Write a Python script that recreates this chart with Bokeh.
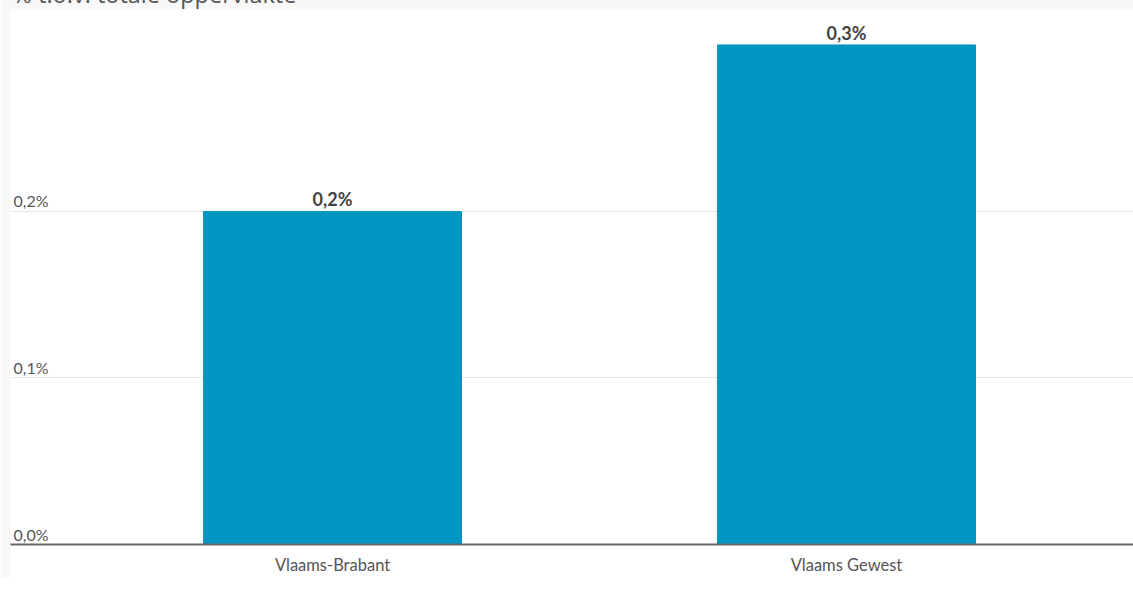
from bokeh.plotting import figure
from bokeh.models import Range1d, FixedTicker, ColumnDataSource
from bokeh.core.properties import value
from bokeh.embed import file_html
from bokeh.resources import INLINE

# ---- data ----
categories = ["Vlaams-Brabant", "Vlaams Gewest"]
values = [0.2, 0.3]
value_labels = ["0,2%", "0,3%"]
y_ticks = [0.0, 0.1, 0.2]
y_tick_labels = ["0,0%", "0,1%", "0,2%"]
title_text = "% t.o.v. totale oppervlakte"

FONT = "Lato"
BAR_COLOR = "#0096c1"

x_pos = list(range(len(categories)))
x_start, x_end = -0.6265, 1.5584

p = figure(
    width=1133, height=602,
    x_range=Range1d(x_start, x_end), y_range=Range1d(0, 0.3213),
    output_backend="svg", toolbar_location=None,
    y_axis_location=None,
    title=title_text,
    margin=(-25, 0, 0, 0),
    min_border_left=10, min_border_right=0, min_border_top=0, min_border_bottom=0,
)
p.border_fill_color = "#f8f8f8"
p.background_fill_color = "white"
p.outline_line_color = None

p.title.text_font = "Open Sans"
p.title.text_font_size = "23.5px"
p.title.text_font_style = "normal"
p.title.text_color = "#555555"
p.title.standoff = 0
p.title.align = "left"
p.title.offset = 2

src = ColumnDataSource(dict(x=x_pos, top=values, lab=value_labels))
p.vbar(x="x", top="top", bottom=0, width=0.502, color=BAR_COLOR, source=src)
p.text(x="x", y="top", text="lab", source=src, y_offset=-1,
       text_align="center", text_baseline="bottom",
       text_font=value(FONT), text_font_size="18px", text_font_style="bold",
       text_color="#444444")

tsrc = ColumnDataSource(dict(x=[x_start] * len(y_ticks), y=y_ticks, lab=y_tick_labels))
p.text(x="x", y="y", text="lab", source=tsrc, x_offset=3, y_offset=-1,
       text_align="left", text_baseline="bottom",
       text_font=value(FONT), text_font_size="16px", text_color="#555555")

p.xgrid.grid_line_color = None
p.ygrid.ticker = FixedTicker(ticks=y_ticks)
p.ygrid.grid_line_color = "#e6e6e6"
p.ygrid.grid_line_width = 1

ax = p.xaxis[0]
ax.ticker = FixedTicker(ticks=x_pos)
ax.major_label_overrides = {i: c for i, c in zip(x_pos, categories)}
ax.axis_line_color = "#666666"
ax.axis_line_width = 2
ax.major_tick_line_color = None
ax.minor_tick_line_color = None
ax.major_label_text_font = FONT
ax.major_label_text_font_size = "16.5px"
ax.major_label_text_color = "#555555"
ax.major_label_standoff = 4
ax.background_fill_color = "white"

open("out.html", "w").write(file_html(p, INLINE))
